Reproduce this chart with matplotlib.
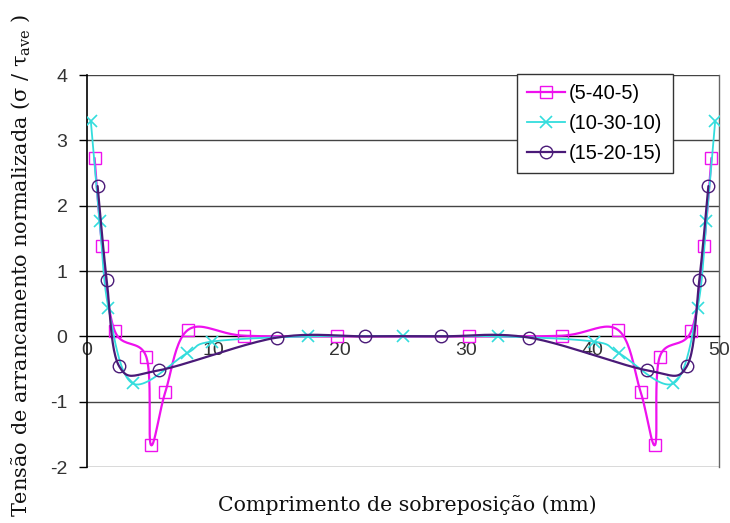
import numpy as np
import matplotlib
matplotlib.use("Agg")
import matplotlib.pyplot as plt
from matplotlib.lines import Line2D

plt.rcParams['axes.unicode_minus'] = False
plt.rcParams['mathtext.fontset'] = 'dejavuserif'

# Normalised peel stress along the overlap for three adhesive layouts
x_5_40_5 = [0.6, 1.2, 2.2, 4.7, 5.05, 6.2, 8.0, 12.4, 19.8,
            30.2, 37.6, 42.0, 43.8, 44.95, 45.3, 47.8, 48.8, 49.4]
y_5_40_5 = [2.73, 1.38, 0.08, -0.32, -1.66, -0.85, 0.1, 0.01, 0.0,
            0.0, 0.01, 0.1, -0.85, -1.66, -0.32, 0.08, 1.38, 2.73]

x_10_30_10 = [0.3, 1.0, 1.7, 3.6, 7.9, 9.9, 17.5, 25.0,
              32.5, 40.1, 42.1, 46.4, 48.3, 49.0, 49.7]
y_10_30_10 = [3.3, 1.76, 0.43, -0.72, -0.26, -0.08, 0.0, 0.0,
              0.0, -0.08, -0.26, -0.72, 0.43, 1.76, 3.3]

x_15_20_15 = [0.84, 1.56, 2.55, 5.7, 15.0, 22.0, 28.0, 35.0, 44.3, 47.45, 48.44, 49.16]
y_15_20_15 = [2.3, 0.86, -0.46, -0.52, -0.02, 0.0, 0.0, -0.02, -0.52, -0.46, 0.86, 2.3]

labels = ['(5-40-5)', '(10-30-10)', '(15-20-15)']
x_ticks = [0, 10, 20, 30, 40, 50]
y_ticks = [-2, -1, 0, 1, 2, 3, 4]


def smooth_curve(x, y, n=24):
    """Bezier smoothing through the points (control points at P1 + (P2-P0)/6)."""
    p = np.column_stack([x, y]).astype(float)
    ext = np.vstack([p[0], p, p[-1]])
    out = [p[0]]
    t = np.linspace(0, 1, n)[1:, None]
    for i in range(1, len(ext) - 2):
        p0, p1, p2, p3 = ext[i - 1], ext[i], ext[i + 1], ext[i + 2]
        c1 = p1 + (p2 - p0) / 6.0
        c2 = p2 - (p3 - p1) / 6.0
        seg = ((1 - t) ** 3) * p1 + 3 * ((1 - t) ** 2) * t * c1 \
            + 3 * (1 - t) * t ** 2 * c2 + t ** 3 * p2
        out.extend(seg)
    out = np.array(out)
    return out[:, 0], out[:, 1]


fig = plt.figure(figsize=(7.30, 5.23), dpi=100)
ax = fig.add_axes([87 / 730, 1 - 467 / 523, 632 / 730, 392 / 523])

styles = [
    dict(x=x_5_40_5, y=y_5_40_5, color='#ee11ee', lw=1.6, marker='s', ms=9, mew=1.0),
    dict(x=x_10_30_10, y=y_10_30_10, color='#33dddd', lw=1.3, marker='x', ms=8, mew=1.2),
    dict(x=x_15_20_15, y=y_15_20_15, color='#4a1a78', lw=1.6, marker='o', ms=9, mew=1.0),
]

handles = []
for i, s in enumerate(styles):
    sx, sy = smooth_curve(s['x'], s['y'])
    ax.plot(sx, sy, color=s['color'], lw=s['lw'], zorder=3 + i, solid_capstyle='round')
    ax.plot(s['x'], s['y'], ls='none', marker=s['marker'], ms=s['ms'],
            mfc='none', mec=s['color'], mew=s['mew'], zorder=3 + i)
    handles.append(Line2D([], [], color=s['color'], lw=s['lw'], marker=s['marker'],
                          ms=s['ms'], mfc='none', mec=s['color'], mew=s['mew']))

ax.set_xlim(0, 50)
ax.set_ylim(-2, 4)
ax.set_yticks(y_ticks)
ax.set_yticklabels([str(v) for v in y_ticks])
ax.set_xticks(x_ticks)
ax.set_xticklabels([str(v) for v in x_ticks])

# horizontal gridlines
for v in y_ticks:
    if v != 0:
        ax.axhline(v, color='#444444', lw=1.0, zorder=1)

ax.spines['bottom'].set_position(('data', 0))
ax.spines['bottom'].set_color('black')
ax.spines['bottom'].set_linewidth(1.0)
ax.spines['top'].set_visible(False)
ax.spines['right'].set_color('#666666')
ax.spines['right'].set_linewidth(1.0)
ax.spines['left'].set_color('black')
ax.spines['left'].set_linewidth(1.2)

ax.tick_params(axis='x', length=0, pad=4, labelsize=14, labelcolor='#333333')
ax.tick_params(axis='y', length=6, width=1, direction='out', pad=8,
               labelsize=14, labelcolor='#333333')
for lab in ax.get_xticklabels() + ax.get_yticklabels():
    lab.set_fontfamily('Liberation Sans')

leg = ax.legend(handles, labels, loc='upper left', bbox_to_anchor=(0.680, 1.003),
                frameon=True, fancybox=False, edgecolor='#333333', framealpha=1,
                prop={'family': 'Liberation Sans', 'size': 14.5},
                handlelength=1.9, handletextpad=0.2, borderpad=0.5,
                labelspacing=0.55, borderaxespad=0)
leg.get_frame().set_linewidth(1.0)
leg.set_zorder(10)

fig.text(407 / 730, 1 - 505 / 523, 'Comprimento de sobreposição (mm)',
         ha='center', va='center', fontsize=14.8, family='DejaVu Serif', color='#111111')
fig.text(21 / 730, 1 - 265 / 523,
         r'Tensão de arrancamento normalizada (σ / τ$_{\mathrm{ave}}$ )',
         ha='center', va='center', rotation=90, fontsize=15,
         family='DejaVu Serif', color='#111111')

fig.savefig('out.png', dpi=100)
